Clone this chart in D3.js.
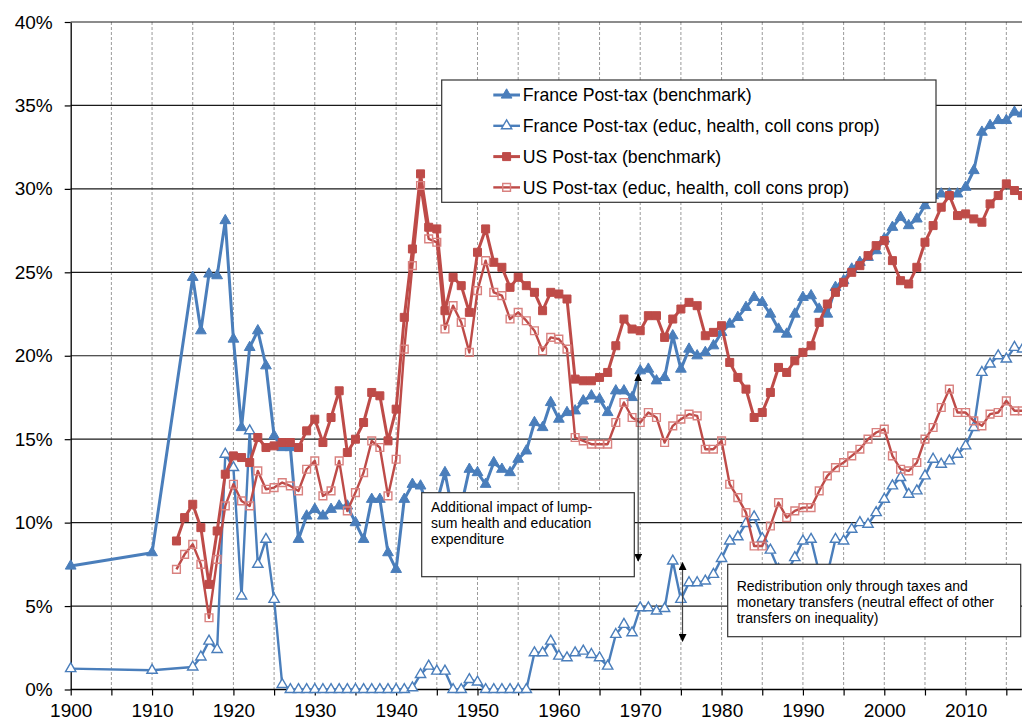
<!DOCTYPE html>
<html>
<head>
<meta charset="utf-8">
<script src="https://cdn.jsdelivr.net/npm/d3@7"></script>
<style>
  body { margin: 0; background: #fff; }
  svg { display: block; font-family: "Liberation Sans", Arial, sans-serif; }
</style>
</head>
<body>
<svg id="chart" width="1022" height="724"></svg>
<script>
// years: France has 1900, 1910, then annual from 1915; US annual from 1913
const fr_years = [1900, 1910].concat(d3.range(1915, 2018));
const us_years = d3.range(1913, 2018);

const fr_bench = [
    7.4, 8.2,
    24.7, 21.5, 24.9, 24.8, 28.1, 21.0, 15.7, 20.5, 21.5, 19.4,
    15.2, 14.5, 14.5, 9.0, 10.4, 10.8, 10.4, 10.8, 11.0, 11.0,
    10.0, 9.0, 11.4, 11.4, 8.2, 7.2, 11.4, 12.3, 12.2, 10.8,
    11.2, 13.0, 10.5, 11.0, 13.2, 13.0, 12.3, 13.6, 13.2, 13.0,
    13.8, 14.3, 16.0, 15.7, 17.2, 16.2, 16.6, 16.7, 17.3, 17.6,
    17.4, 16.6, 17.9, 17.9, 17.5, 19.1, 19.2, 18.5, 18.7, 21.2,
    19.2, 20.4, 20.0, 20.2, 20.6, 21.4, 21.9, 22.3, 22.9, 23.5,
    23.2, 22.5, 21.6, 21.3, 22.5, 23.5, 23.6, 22.8, 22.5, 24.1,
    24.5, 25.2, 25.6, 25.9, 26.3, 27.0, 27.7, 28.3, 27.8, 28.2,
    29.0, 29.6, 29.7, 29.7, 29.7, 30.1, 31.1, 33.4, 33.8, 34.1,
    34.1, 34.6, 34.5
];

const fr_educ = [
    1.25, 1.15,
    1.35, 1.95, 2.9, 2.4, 14.1, 13.3, 5.6, 15.5, 7.5, 9.0,
    5.4, 0.3, 0, 0, 0, 0, 0, 0, 0, 0,
    0, 0, 0, 0, 0, 0, 0, 0.1, 0.9, 1.4,
    1.1, 1.1, 0, 0, 0.6, 0.45, 0, 0, 0, 0,
    0, 0, 2.2, 2.2, 2.9, 2.0, 1.9, 2.2, 2.3, 2.1,
    1.9, 1.4, 3.3, 3.9, 3.4, 4.9, 4.9, 4.7, 4.85, 7.7,
    5.4, 6.4, 6.4, 6.5, 6.9, 7.85, 8.9, 9.15, 9.95, 10.35,
    9.05, 8.35, 7.2, 7.0, 7.9, 8.9, 9.0, 7.0, 6.9, 9.0,
    8.9, 9.6, 10.0, 9.9, 10.6, 11.4, 12.2, 12.7, 11.7, 11.9,
    12.8, 13.8, 13.5, 13.7, 14.1, 14.6, 15.7, 19.0, 19.5, 20.0,
    19.8, 20.5, 20.4
];

const us_bench = [
    8.9, 10.3, 11.1, 9.7, 6.3, 9.5, 12.9, 14.0, 13.9, 13.6, 15.1, 14.5,
    14.6, 14.8, 14.8, 14.5, 15.5, 16.2, 14.8, 16.3, 17.9, 14.2,
    15.0, 16.0, 17.8, 17.6, 14.9, 16.8, 22.3, 26.4, 30.9, 27.7,
    27.6, 22.7, 24.7, 24.2, 22.6, 26.2, 27.6, 25.6, 25.3, 24.1,
    24.7, 24.2, 23.8, 22.7, 23.8, 23.7, 23.4, 18.6, 18.5, 18.5,
    18.7, 19.0, 20.6, 22.2, 21.6, 21.5, 22.4, 22.4, 21.1, 22.2,
    22.8, 23.2, 23.0, 21.2, 21.4, 21.8, 19.6, 18.7, 18.0, 16.3,
    16.6, 17.8, 19.3, 19.0, 19.7, 20.2, 20.6, 22.0, 23.1, 23.8,
    24.4, 25.0, 25.4, 26.0, 26.6, 26.9, 25.7, 24.5, 24.3, 25.3,
    26.8, 27.8, 28.9, 29.6, 28.4, 28.5, 28.2, 28.0, 29.1, 29.6,
    30.3, 29.9, 29.6
];

const us_educ = [
    7.2, 8.1, 8.7, 7.5, 4.3, 7.8, 11.0, 12.3, 11.3, 11.0, 13.1, 12.0,
    12.1, 12.4, 12.2, 11.9, 13.2, 13.7, 11.6, 11.9, 13.7, 10.7,
    11.8, 13.0, 14.9, 14.5, 11.6, 13.8, 20.4, 25.4, 30.2, 27.0,
    26.8, 21.6, 23.0, 22.0, 20.2, 23.9, 25.7, 23.8, 23.6, 22.2,
    22.6, 22.1, 21.5, 20.3, 21.1, 21.0, 20.4, 15.1, 14.9, 14.7,
    14.7, 14.7, 16.0, 17.2, 16.3, 16.0, 16.6, 16.3, 14.8, 15.8,
    16.2, 16.5, 16.4, 14.4, 14.4, 14.9, 12.3, 11.5, 10.6, 8.6,
    8.6, 9.8, 11.2, 10.3, 10.7, 10.9, 10.9, 11.9, 12.8, 13.3,
    13.6, 14.0, 14.4, 15.0, 15.4, 15.6, 14.0, 13.2, 13.1, 13.6,
    15.0, 15.7, 16.9, 18.0, 16.6, 16.6, 16.1, 15.8, 16.5, 16.6,
    17.3, 16.7, 16.7
];

const y_ticks = [0, 5, 10, 15, 20, 25, 30, 35, 40];
const x_ticks = d3.range(1900, 2016, 5);
const x_labels = [1900, 1910, 1920, 1930, 1940, 1950, 1960, 1970, 1980, 1990, 2000, 2010];

const series_names = [
    'France Post-tax (benchmark)',
    'France Post-tax (educ, health, coll cons prop)',
    'US Post-tax (benchmark)',
    'US Post-tax (educ, health, coll cons prop)'
];

const note_lump = ['Additional impact of lump-', 'sum health and education', 'expenditure'];
const note_money = ['Redistribution only through taxes and', 'monetary transfers (neutral effect of other', 'transfers on inequality)'];

// arrows: [year, from %, to %]
const arrows = [[1969.75, 18.9, 7.7], [1975.2, 7.6, 2.9]];

const blue = '#4a7ebb',
      red = '#be4b48',
      red_light = '#d9817f';

const series = [
    {name: series_names[0], years: fr_years, values: fr_bench, color: blue, shape: d3.symbolTriangle, size: 50, open: false, width: 3},
    {name: series_names[1], years: fr_years, values: fr_educ, color: blue, shape: d3.symbolTriangle, size: 46, open: true, width: 2.4},
    {name: series_names[2], years: us_years, values: us_bench, color: red, shape: d3.symbolSquare, size: 64, open: false, width: 3},
    {name: series_names[3], years: us_years, values: us_educ, color: red, shape: d3.symbolSquare, size: 60, open: true, width: 2.4}
];

const plot = {left: 70.7, right: 1022.6, top: 22, bottom: 689.5};

let svg = d3.select('#chart');

let x = d3.scaleLinear()
    .domain([1900, 2017])
    .range([plot.left, plot.right]);

let y = d3.scaleLinear()
    .domain([0, 40])
    .range([plot.bottom, plot.top]);

// grid
svg.append('g')
    .selectAll('line')
    .data(x_ticks.slice(1))
    .enter()
    .append('line')
    .attr('x1', d => x(d)).attr('x2', d => x(d))
    .attr('y1', plot.top).attr('y2', plot.bottom)
    .attr('stroke', '#9a9a9a')
    .attr('stroke-width', 1)
    .attr('stroke-dasharray', '3,2');

svg.append('g')
    .selectAll('line')
    .data(y_ticks.slice(1))
    .enter()
    .append('line')
    .attr('x1', plot.left).attr('x2', 1022)
    .attr('y1', d => y(d)).attr('y2', d => y(d))
    .attr('stroke', '#1a1a1a')
    .attr('stroke-width', 1.2);

// axes
let y_axis = svg.append('g')
    .attr('transform', `translate(${plot.left},0)`)
    .call(d3.axisLeft(y).tickValues(y_ticks).tickFormat(d => d + '%').tickSize(6).tickPadding(12).tickSizeOuter(0));

let x_axis = svg.append('g')
    .attr('transform', `translate(0,${plot.bottom})`)
    .call(d3.axisBottom(x).tickValues(x_ticks).tickFormat(d => x_labels.includes(d) ? d : '').tickSize(6).tickPadding(8).tickSizeOuter(0));

[y_axis, x_axis].forEach(a => {
    a.select('.domain').attr('stroke', '#000').attr('stroke-width', 1.3);
    a.selectAll('.tick line').attr('stroke', '#000').attr('stroke-width', 1.2);
    a.selectAll('.tick text')
        .attr('fill', '#000')
        .style('font-size', '19px')
        .style('font-family', '"Liberation Sans", Arial, sans-serif');
});
x_axis.select('.domain').attr('d', `M${plot.left},0H1022`);

// series
let line = d3.line()
    .x(d => x(d[0]))
    .y(d => y(d[1]));

let marker_style = function (sel, s) {
    sel.attr('d', d3.symbol().type(s.shape).size(s.size))
        .attr('fill', s.open ? (s.shape === d3.symbolSquare ? 'none' : '#fff') : s.color)
        .attr('stroke', s.open ? (s.shape === d3.symbolSquare ? red_light : s.color) : s.color)
        .attr('stroke-width', s.open ? 1.4 : 1);
};

series.forEach(s => {
    const pts = s.years.map((yr, i) => [yr, s.values[i]]);
    let g = svg.append('g');

    g.append('path')
        .datum(pts)
        .attr('d', line)
        .attr('fill', 'none')
        .attr('stroke', s.color)
        .attr('stroke-width', s.width)
        .attr('stroke-linejoin', 'round');

    g.selectAll('.marker')
        .data(pts)
        .enter()
        .append('path')
        .classed('marker', true)
        .attr('transform', d => `translate(${x(d[0])},${y(d[1])})`)
        .call(marker_style, s);
});

// arrows
svg.append('defs')
    .append('marker')
    .attr('id', 'head')
    .attr('viewBox', '0 0 10 10')
    .attr('refX', 9).attr('refY', 5)
    .attr('markerWidth', 8).attr('markerHeight', 8)
    .attr('markerUnits', 'userSpaceOnUse')
    .attr('orient', 'auto-start-reverse')
    .append('path')
    .attr('d', 'M0,0L10,5L0,10Z')
    .attr('fill', '#000');

svg.append('g')
    .selectAll('line')
    .data(arrows)
    .enter()
    .append('line')
    .attr('x1', d => x(d[0])).attr('x2', d => x(d[0]))
    .attr('y1', d => y(d[1])).attr('y2', d => y(d[2]))
    .attr('stroke', '#444')
    .attr('stroke-width', 1.2)
    .attr('marker-start', 'url(#head)')
    .attr('marker-end', 'url(#head)');

// text boxes
let note = function (lines, bx, by, bw, bh, tx, ty) {
    let g = svg.append('g');
    g.append('rect')
        .attr('x', bx).attr('y', by)
        .attr('width', bw).attr('height', bh)
        .attr('fill', '#fff')
        .attr('stroke', '#333')
        .attr('stroke-width', 1.2);
    g.selectAll('text')
        .data(lines)
        .enter()
        .append('text')
        .attr('x', tx)
        .attr('y', (d, i) => ty + i * 16)
        .attr('dy', '0.35em')
        .style('font-size', '14px')
        .attr('fill', '#000')
        .text(d => d);
};

note(note_lump, 421.7, 492.7, 212.6, 84, 431, 506.7);
note(note_money, 727.7, 564.3, 293, 72.4, 736.7, 585.7);

// legend
let legend = svg.append('g');
legend.append('rect')
    .attr('x', 441.7).attr('y', 80)
    .attr('width', 494.3).attr('height', 122.3)
    .attr('fill', '#fff')
    .attr('stroke', '#333')
    .attr('stroke-width', 1.2);

series.forEach((s, i) => {
    const ly = 95 + i * 30.8;
    let row = legend.append('g');
    row.append('line')
        .attr('x1', 493.3).attr('x2', 520)
        .attr('y1', ly).attr('y2', ly)
        .attr('stroke', s.color)
        .attr('stroke-width', s.width);
    row.append('path')
        .attr('transform', `translate(506.6,${ly})`)
        .call(marker_style, s);
    row.append('text')
        .attr('x', 522.7)
        .attr('y', ly)
        .attr('dy', '0.35em')
        .style('font-size', '17.7px')
        .attr('fill', '#000')
        .text(s.name);
});
</script>
</body>
</html>
